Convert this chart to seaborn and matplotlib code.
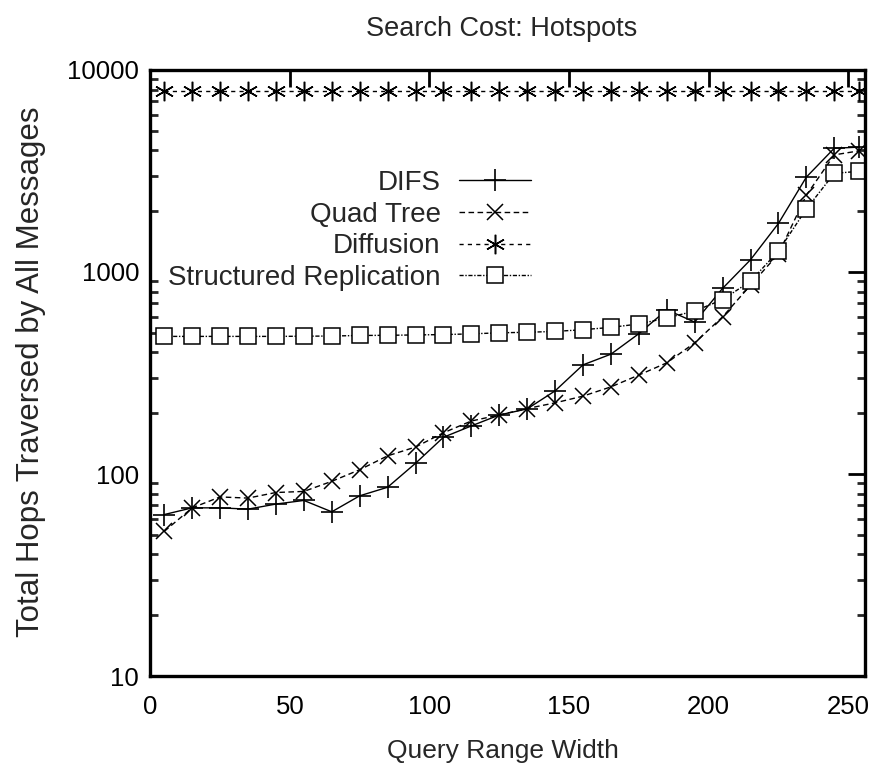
import numpy as np
import pandas as pd
import matplotlib
matplotlib.use("Agg")
import matplotlib.pyplot as plt
import seaborn as sns

# query range widths (x positions of the samples)
widths = [5, 15, 25, 35, 45, 55, 65, 75, 85, 95, 105, 115, 125,
          135, 145, 155, 165, 175, 185, 195, 205, 215, 225, 235, 245, 254]

difs = [63, 68, 68, 67, 71, 74, 65, 78, 86, 113, 152, 173, 196,
        210, 258, 347, 392, 495, 650, 565, 830, 1150, 1740, 2950, 4100, 4150]
quad_tree = [52, 68, 77, 76, 81, 82, 92, 105, 123, 136, 160, 183, 196,
             211, 225, 243, 270, 309, 355, 446, 600, 860, 1230, 2400, 3800, 3980]
diffusion = [7900, 7900, 7900, 7900, 7900, 7900, 7900, 7900, 7900, 7900, 7900, 7900, 7900,
             7900, 7900, 7900, 7900, 7900, 7900, 7900, 7900, 7900, 7900, 7900, 7900, 7900]
struct_repl = [480, 480, 480, 480, 480, 481, 482, 485, 486, 488, 490, 494, 500,
               503, 508, 518, 532, 553, 592, 641, 730, 900, 1270, 2050, 3080, 3150]

series_names = ["DIFS", "Quad Tree", "Diffusion", "Structured Replication"]
x_ticks = [0, 50, 100, 150, 200, 250]
y_ticks = [10, 100, 1000, 10000]

sns.set_theme(style="white")
plt.rcParams["font.family"] = ["Liberation Sans", "DejaVu Sans"]

fig = plt.figure(figsize=(8.84, 7.75), dpi=100)
ax = fig.add_axes([0.170, 0.1277, 0.8085, 0.782])

styles = {
    "DIFS": dict(linestyle="-", marker="+", ms=16, mew=1.2),
    "Quad Tree": dict(linestyle=(0, (4, 2.5)), marker="x", ms=12, mew=1.1),
    "Diffusion": dict(linestyle=(0, (3, 3)), marker=(6, 2, 0), ms=14, mew=1.1),
    "Structured Replication": dict(linestyle=(0, (3, 1.2, 1, 1.2)), marker="s", ms=11,
                                   mew=1.1, mfc="white"),
}

for name, vals in zip(series_names, [difs, quad_tree, diffusion, struct_repl]):
    df = pd.DataFrame({"width": widths, "hops": vals})
    st = styles[name]
    sns.lineplot(data=df, x="width", y="hops", ax=ax, color="black", lw=1.0,
                 label=name, mec="black", **st)

ax.set_yscale("log")
ax.set_xlim(0, 256)
ax.set_ylim(10, 10000)
ax.set_xticks(x_ticks)
ax.set_xticklabels([str(t) for t in x_ticks])
ax.set_yticks(y_ticks)
ax.set_yticklabels([str(t) for t in y_ticks])
ax.minorticks_off()
ax.yaxis.set_minor_locator(matplotlib.ticker.LogLocator(base=10, subs=np.arange(2, 10)))
ax.tick_params(axis="both", which="major", direction="in", length=12, width=2,
               top=True, right=True, labelsize=18.5, colors="black")
ax.tick_params(axis="x", which="major", pad=14)
ax.tick_params(axis="y", which="major", pad=8)
ax.tick_params(axis="y", which="minor", direction="in", length=6, width=2,
               left=True, right=True)
for sp in ax.spines.values():
    sp.set_linewidth(2.4)
    sp.set_color("black")

ax.set_xlabel("")
ax.set_ylabel("")
fig.text(0.569, 0.031, "Query Range Width", ha="center", va="center", fontsize=19)
fig.text(0.035, 0.52, "Total Hops Traversed by All Messages", ha="center", va="center",
         rotation=90, fontsize=22.5)
fig.text(0.567, 0.963, "Search Cost: Hotspots", ha="center", va="center", fontsize=19.5)

ax.legend(loc="upper right", bbox_to_anchor=(0.548, 0.853), frameon=False,
          markerfirst=False, handlelength=2.6, labelspacing=0.2, fontsize=20,
          handletextpad=0.65, borderaxespad=0)

fig.savefig("out.png", dpi=100)
